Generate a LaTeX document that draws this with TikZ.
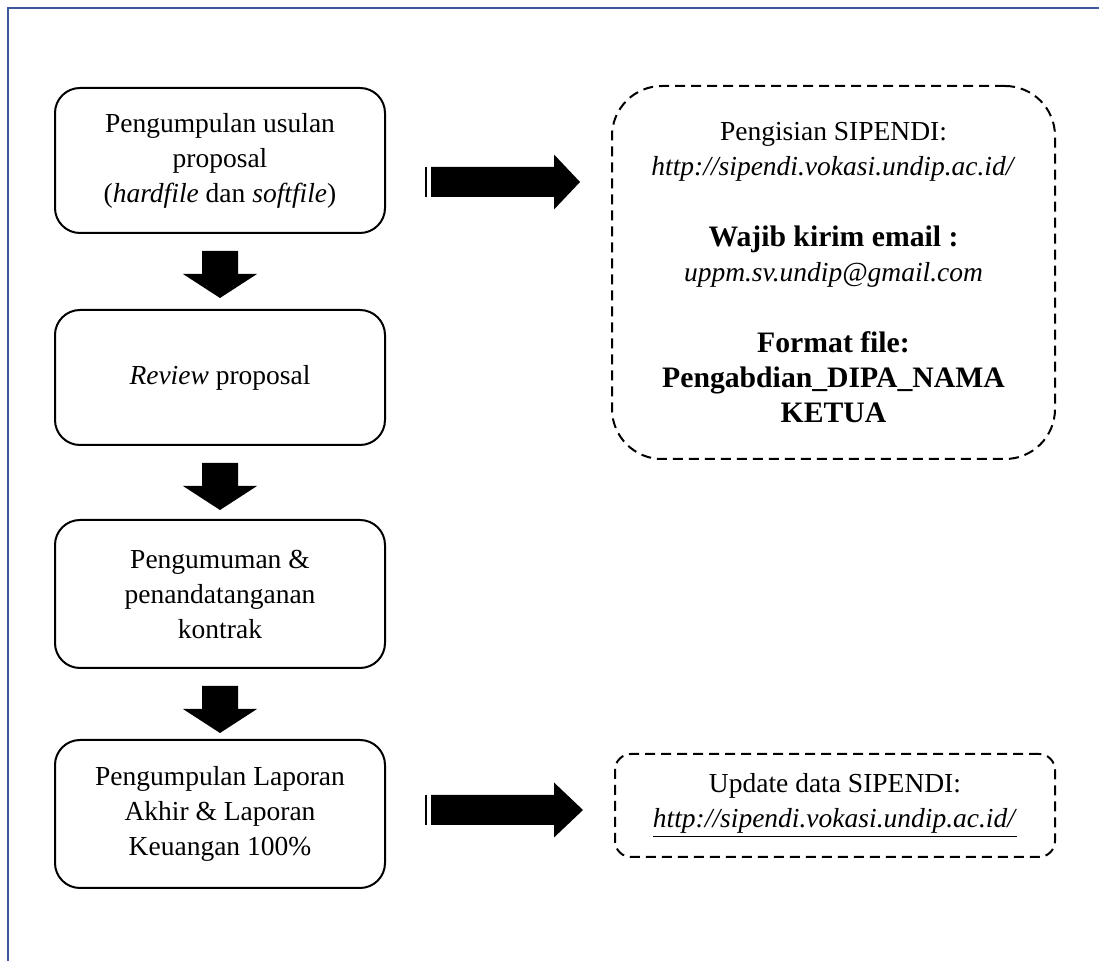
\documentclass[tikz,border=0pt]{standalone}
\usepackage{fontspec}
\setmainfont{Liberation Serif}
\usetikzlibrary{calc}
\definecolor{framecol}{RGB}{59,91,152}
\begin{document}
\begin{tikzpicture}[x=0.5pt,y=-0.5pt,
  flow/.style={draw=black, line width=1pt, rounded corners=12.5pt, minimum width=165pt,
    align=center, inner sep=0pt, font=\fontsize{13.75}{17.5}\selectfont},
  note/.style={draw=black, line width=1pt, dash pattern=on 5pt off 3pt, align=center,
    inner sep=0pt, font=\fontsize{13.75}{17.5}\selectfont},
  blockarrow/.style={fill=black, draw=none},
  stripe/.style={draw=black, line width=1pt},
  bigbold/.style={font=\bfseries\fontsize{14.85}{17.5}\selectfont}]
\useasboundingbox (0,0) rectangle (1099,961);
% page frame
\draw[framecol, line width=1.4pt] (1099,8) -- (8,8) -- (8,961);

% left column
\node[flow, minimum height=72.5pt] (b1) at (220,160.5)
  {Pengumpulan usulan\\proposal\\(\textit{hardfile} dan \textit{softfile})};
\node[flow, minimum height=67.5pt] (b2) at (220,377.5) {\textit{Review} proposal};
\node[flow, minimum height=74pt] (b3) at (220,594)
  {Pengumuman \&\\penandatanganan\\kontrak};
\node[flow, minimum height=74pt] (b4) at (220,814)
  {Pengumpulan Laporan\\Akhir \& Laporan\\Keuangan 100\%};

% right notes
\node[note, rounded corners=25pt, minimum width=221.5pt, minimum height=186.5pt] (r1) at (833.5,272.5)
  {Pengisian SIPENDI:\\
   \textit{http://sipendi.vokasi.undip.ac.id/}\\[18pt]
   {\bfseries\fontsize{14.85}{17.5}\selectfont Wajib kirim email :}\\
   \textit{uppm.sv.undip@gmail.com}\\[18pt]
   {\bfseries\fontsize{14.85}{17.5}\selectfont Format file:}\\
   {\bfseries\fontsize{14.85}{17.5}\selectfont Pengabdian\_DIPA\_NAMA}\\
   {\bfseries\fontsize{14.85}{17.5}\selectfont KETUA}};
\node[note, rounded corners=8pt, minimum width=220pt, minimum height=51.5pt] (r2) at (835,805.5)
  {Update data SIPENDI:\\
   \underline{\textit{http://sipendi.vokasi.undip.ac.id/}}};

% down block arrows
\foreach \u/\v in {b1/b2, b2/b3, b3/b4}{
  \fill[blockarrow] ($(\u.south)+(-18,17)$) -- ++(36,0) -- ++(0,23) -- ++(19,0)
    -- ($(\u.south)+(0,64)$) -- ++(-37,-24) -- ++(19,0) -- cycle;
}

% right block arrows
\coordinate (a1) at ($(b1.east)+(0,21.5)$);
\coordinate (a2) at ($(b4.east)+(0,-4)$);
\foreach \a/\t in {a1/r1, a2/r2}{
  \draw[stripe] ($(\a)+(40,-15)$) -- ($(\a)+(40,15)$);
  \fill[blockarrow] ($(\a)+(45,-15)$) -- ++(123,0) -- ++(0,-12.5)
    -- ($(\t.west |- \a)+(-31,0)$) -- ($(\a)+(168,27.5)$) -- ++(0,-12.5) -- ++(-123,0) -- cycle;
}
\end{tikzpicture}
\end{document}
